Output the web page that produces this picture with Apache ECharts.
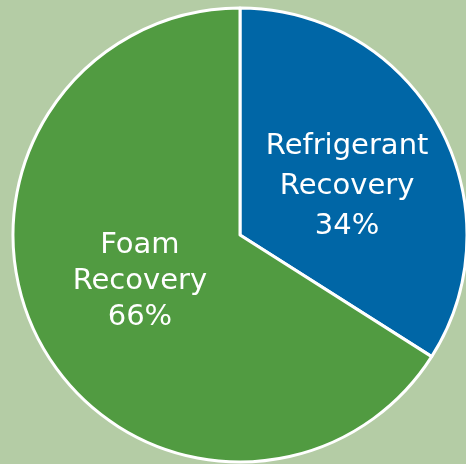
<!DOCTYPE html>
<html><head><meta charset="utf-8">
<script src="https://cdn.jsdelivr.net/npm/echarts@6/dist/echarts.min.js"></script>
<style>html,body{margin:0;padding:0;background:#b4cca5;}#c{width:466px;height:464px;}</style>
</head><body><div id="c"></div>
<script>
const categories = ['Refrigerant\nRecovery', 'Foam\nRecovery'];
const values = [34, 66];
const colors = ['#0066a6', '#519b41'];
const labelShift = [[5, 8], [2, -10]];
const lineHeights = [40, 36];

const chart = echarts.init(document.getElementById('c'), null, {renderer: 'canvas'});
chart.setOption({
  backgroundColor: '#b4cca5',
  animation: false,
  series: [{
    type: 'pie',
    center: [240, 235],
    radius: [0, 227],
    startAngle: 90,
    clockwise: true,
    silent: true,
    itemStyle: {borderColor: '#ffffff', borderWidth: 3},
    label: {
      position: 'inside',
      rotate: 0,
      color: '#ffffff',
      fontFamily: 'DejaVu Sans',
      fontSize: 29,
      align: 'center',
      formatter: p => p.name + '\n' + p.value + '%'
    },
    labelLayout: p => ({dx: labelShift[p.dataIndex][0], dy: labelShift[p.dataIndex][1]}),
    labelLine: {show: false},
    data: categories.map((c, i) => ({
      name: c, value: values[i],
      itemStyle: {color: colors[i]},
      label: {lineHeight: lineHeights[i]}
    }))
  }]
});
</script></body></html>
